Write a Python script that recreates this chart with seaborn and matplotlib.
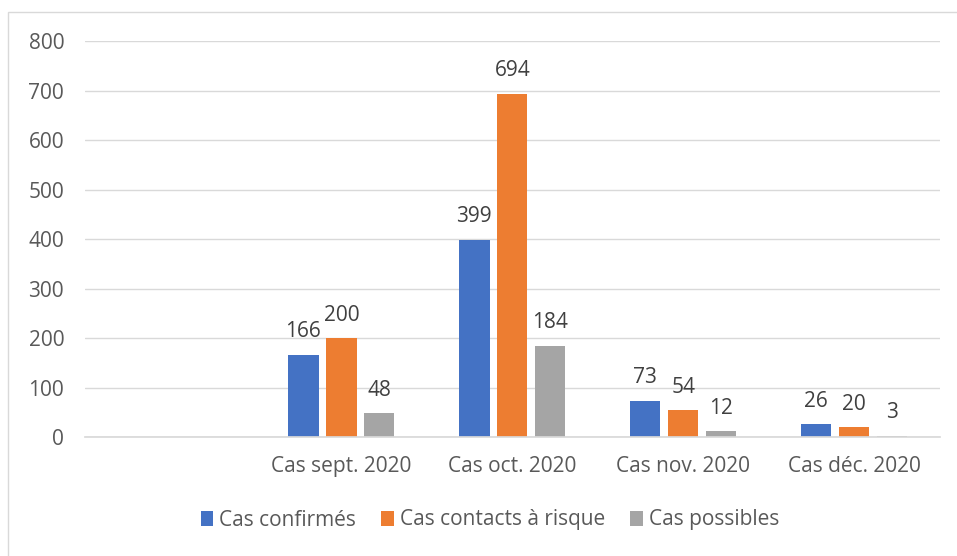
import matplotlib
matplotlib.use("Agg")
import matplotlib.pyplot as plt
import seaborn as sns
import pandas as pd
from matplotlib.patches import Rectangle

categories = ["", "Cas sept. 2020", "Cas oct. 2020", "Cas nov. 2020", "Cas déc. 2020"]
series = ["Cas confirmés", "Cas contacts à risque", "Cas possibles"]
confirmes = [166, 399, 73, 26]
contacts = [200, 694, 54, 20]
possibles = [48, 184, 12, 3]
colors = ["#4472C4", "#ED7D31", "#A5A5A5"]

rows = []
for name, vals in zip(series, [confirmes, contacts, possibles]):
    for cat, v in zip(categories[1:], vals):
        rows.append({"cat": cat, "serie": name, "val": v})
df = pd.DataFrame(rows)

sns.set_theme(style="white")
plt.rcParams['font.family'] = ['Open Sans', 'DejaVu Sans']

fig = plt.figure(figsize=(9.57, 5.56), dpi=100)
ax = fig.add_axes([0.0888, 0.214, 0.893, 0.712])

sns.barplot(data=df, x="cat", y="val", hue="serie", order=categories,
            hue_order=series, palette=colors, width=0.666, gap=0.2,
            ax=ax, legend=True, saturation=1, linewidth=0)

for cont in ax.containers:
    ax.bar_label(cont, fmt="%d", fontsize=15, color="#404040", padding=9)

ax.set_ylim(0, 800)
ax.set_yticks(range(0, 801, 100))
ax.set_xlim(-0.5, 4.5)
ax.yaxis.grid(True, color="#D9D9D9", linewidth=1)
ax.set_axisbelow(True)
for s in ["top", "right", "left"]:
    ax.spines[s].set_visible(False)
ax.spines["bottom"].set_color("#D9D9D9")
ax.tick_params(axis="both", length=0, labelsize=15, colors="#595959")
ax.tick_params(axis="y", pad=15)
ax.tick_params(axis="x", pad=14)
ax.set_xlabel("")
ax.set_ylabel("")

h, l = ax.get_legend_handles_labels()
ax.legend(h, l, loc="center", bbox_to_anchor=(490/957, 1-520/556),
          bbox_transform=fig.transFigure, ncol=3, frameon=False,
          fontsize=15, handlelength=0.6, handleheight=0.7, handletextpad=0.3,
          columnspacing=1.2, labelcolor="#595959")

fig.patches.append(Rectangle((8/957, -0.01), 1.0, 1-12/556 + 0.01, transform=fig.transFigure,
                             fill=False, edgecolor="#D9D9D9", linewidth=1))

fig.savefig("out.png", dpi=100)
